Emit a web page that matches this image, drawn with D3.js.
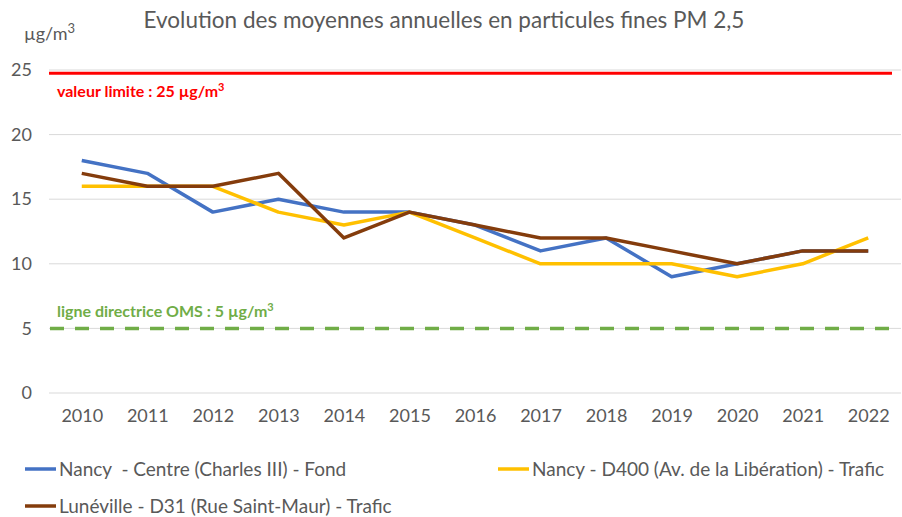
<!DOCTYPE html>
<html>
<head>
<meta charset="utf-8">
<script src="https://cdn.jsdelivr.net/npm/d3@7"></script>
<style>
  body { margin: 0; background: #fff; }
  svg { font-family: Lato, "Open Sans", sans-serif; }
</style>
</head>
<body>
<div id="chart"></div>
<script>
const years = ['2010','2011','2012','2013','2014','2015','2016','2017','2018','2019','2020','2021','2022'];
const nancyCentre = [18, 17, 14, 15, 14, 14, 13, 11, 12, 9, 10, 11, 11];
const nancyD400 = [16, 16, 16, 14, 13, 14, 12, 10, 10, 10, 9, 10, 12];
const luneville = [17, 16, 16, 17, 12, 14, 13, 12, 12, 11, 10, 11, 11];
const yTicks = [0, 5, 10, 15, 20, 25];
const limitValue = 24.75;
const omsValue = 5;

const seriesNames = [
    'Nancy  - Centre (Charles III) - Fond',
    'Nancy - D400 (Av. de la Libération) - Trafic',
    'Lunéville - D31 (Rue Saint-Maur) - Trafic'
];
const seriesColors = ['#4472C4', '#FFC000', '#843C0C'];

const width = 902, height = 517;
const margin = {top: 70, right: 1, bottom: 124, left: 49};
const innerW = width - margin.left - margin.right;
const innerH = height - margin.top - margin.bottom;

const svg = d3.select('#chart').append('svg')
    .attr('width', width)
    .attr('height', height);

svg.append('text')
    .attr('x', 444)
    .attr('y', 28)
    .attr('text-anchor', 'middle')
    .attr('fill', '#595959')
    .style('font-size', '22.5px')
    .text('Evolution des moyennes annuelles en particules fines PM 2,5');

svg.append('text')
    .attr('x', 24)
    .attr('y', 40)
    .attr('fill', '#595959')
    .style('font-size', '18px')
    .html('µg/m<tspan dy="-7" style="font-size:13px">3</tspan>');

const g = svg.append('g')
    .attr('transform', `translate(${margin.left},${margin.top})`);

const x = d3.scalePoint()
    .domain(years)
    .range([0, innerW])
    .padding(0.5);

const y = d3.scaleLinear()
    .domain([0, 25])
    .range([innerH, 0]);

// grid
g.selectAll('.grid')
    .data(yTicks)
    .enter()
    .append('line')
    .attr('x1', 0)
    .attr('x2', innerW)
    .attr('y1', d => y(d))
    .attr('y2', d => y(d))
    .attr('stroke', '#d9d9d9')
    .attr('stroke-width', 1);

// y axis labels
const yAxis = g.append('g')
    .call(d3.axisLeft(y).tickValues(yTicks).tickSize(0).tickPadding(17));
yAxis.select('.domain').remove();
yAxis.selectAll('text')
    .attr('fill', '#595959')
    .style('font-size', '18px')
    .style('font-family', 'Lato, sans-serif');

// x axis labels
const xAxis = g.append('g')
    .attr('transform', `translate(0,${innerH})`)
    .call(d3.axisBottom(x).tickSize(0).tickPadding(16));
xAxis.select('.domain').remove();
xAxis.selectAll('text')
    .attr('fill', '#595959')
    .style('font-size', '18px')
    .style('font-family', 'Lato, sans-serif');

// reference lines
g.append('line')
    .attr('x1', 0)
    .attr('x2', innerW - 9)
    .attr('y1', y(limitValue))
    .attr('y2', y(limitValue))
    .attr('stroke', '#FF0000')
    .attr('stroke-width', 3);

g.append('line')
    .attr('x1', 1)
    .attr('x2', innerW - 6)
    .attr('y1', y(omsValue))
    .attr('y2', y(omsValue))
    .attr('stroke', '#70AD47')
    .attr('stroke-width', 3.5)
    .attr('stroke-dasharray', '14,11');

g.append('text')
    .attr('x', 8)
    .attr('y', y(limitValue) + 24)
    .attr('fill', '#FF0000')
    .style('font-size', '16px')
    .style('font-weight', 'bold')
    .html('valeur limite : 25 µg/m<tspan dy="-6" style="font-size:11px">3</tspan>');

g.append('text')
    .attr('x', 8)
    .attr('y', y(omsValue) - 11)
    .attr('fill', '#70AD47')
    .style('font-size', '16px')
    .style('font-weight', 'bold')
    .html('ligne directrice OMS : 5 µg/m<tspan dy="-6" style="font-size:11px">3</tspan>');

// series
const allSeries = [nancyCentre, nancyD400, luneville];
const line = d3.line()
    .x((d, i) => x(years[i]))
    .y(d => y(d));

g.selectAll('.series')
    .data(allSeries)
    .enter()
    .append('path')
    .attr('class', 'series')
    .attr('d', d => line(d))
    .attr('fill', 'none')
    .attr('stroke', (d, i) => seriesColors[i])
    .attr('stroke-width', 3.5)
    .attr('stroke-linejoin', 'round');

// legend
const legendPos = [
    {x: 25, y: 469},
    {x: 498, y: 469},
    {x: 25, y: 506}
];
const legend = svg.selectAll('.legend')
    .data(seriesNames)
    .enter()
    .append('g')
    .attr('class', 'legend')
    .attr('transform', (d, i) => `translate(${legendPos[i].x},${legendPos[i].y})`);

legend.append('line')
    .attr('x1', 0)
    .attr('x2', 31)
    .attr('stroke', (d, i) => seriesColors[i])
    .attr('stroke-width', 3.5);

legend.append('text')
    .attr('x', 34)
    .attr('y', 7)
    .attr('fill', '#595959')
    .style('font-size', '19px')
    .style('white-space', 'pre')
    .text(d => d);
</script>
</body>
</html>
